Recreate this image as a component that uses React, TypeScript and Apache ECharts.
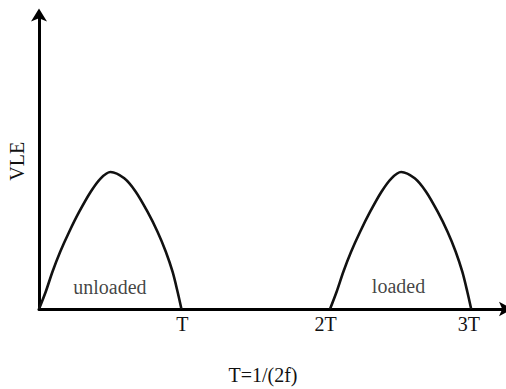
import React, { useEffect, useRef } from "react";
import * as echarts from "echarts";

// Curve points (x in units of T, y relative to peak)
const unloadedX = [0, 0.047, 0.094, 0.148, 0.211, 0.281, 0.361, 0.431, 0.499, 0.595, 0.675, 0.757, 0.827, 0.885, 0.932, 0.967, 0.994];
const unloadedY = [0, 0.126, 0.272, 0.418, 0.564, 0.71, 0.856, 0.954, 1.0, 0.954, 0.856, 0.71, 0.564, 0.418, 0.272, 0.126, 0];
const loadedX = [2.031, 2.077, 2.124, 2.178, 2.241, 2.311, 2.39, 2.46, 2.527, 2.622, 2.701, 2.782, 2.851, 2.908, 2.954, 2.989, 3.016];
const loadedY = [0, 0.126, 0.272, 0.418, 0.564, 0.71, 0.856, 0.954, 1.0, 0.954, 0.856, 0.71, 0.564, 0.418, 0.272, 0.126, 0];

const tickLabels: Record<number, string> = { 1: "T", 2: "2T", 3: "3T" };
const regionLabels = [
  { name: "unloaded", x: 0.495, y: 0.16 },
  { name: "loaded", x: 2.509, y: 0.168 },
];
const yAxisName = "VLE";
const footNote = "T=1/(2f)";

const FONT = "'Liberation Serif', 'Times New Roman', serif";
const TXT = "#111";

export default function App() {
  const ref = useRef<HTMLDivElement>(null);
  useEffect(() => {
    if (!ref.current) return;
    const chart = echarts.init(ref.current, null, { renderer: "svg" });
    const zip = (xs: number[], ys: number[]) => xs.map((x, i) => [x, ys[i]]);
    const curve = { color: "#111", width: 2.6 };
    chart.setOption({
      animation: false,
      backgroundColor: "#ffffff",
      grid: {
        left: 39,
        right: 0,
        top: 13.5,
        bottom: 80,
        containLabel: false,
        outerBoundsMode: "none",
      },
      xAxis: {
        type: "value",
        min: 0,
        max: 3.259,
        interval: 1,
        axisLine: {
          show: true,
          onZero: false,
          symbol: ["none", "arrow"],
          symbolSize: [11, 13],
          symbolOffset: [0, 6],
          lineStyle: { color: "#000", width: 3 },
        },
        axisTick: { show: false },
        splitLine: { show: false },
        axisLabel: {
          show: true,
          margin: 5,
          fontFamily: FONT,
          fontSize: 20,
          color: TXT,
          showMinLabel: false,
          showMaxLabel: false,
          formatter: (v: number) => tickLabels[Math.round(v)] ?? "",
        },
      },
      yAxis: {
        type: "value",
        min: 0,
        max: 2.157,
        name: yAxisName,
        nameLocation: "middle",
        nameRotate: 90,
        nameGap: 12,
        nameTextStyle: { fontFamily: FONT, fontSize: 20, color: TXT },
        axisLine: {
          show: true,
          symbol: ["none", "arrow"],
          symbolSize: [12, 13],
          symbolOffset: [0, 5],
          lineStyle: { color: "#000", width: 3 },
        },
        axisTick: { show: false },
        axisLabel: { show: false },
        splitLine: { show: false },
      },
      series: [
        {
          type: "line",
          data: zip(unloadedX, unloadedY),
          smooth: 0.3,
          symbol: "none",
          lineStyle: curve,
        },
        {
          type: "line",
          data: zip(loadedX, loadedY),
          smooth: 0.3,
          symbol: "none",
          lineStyle: curve,
        },
        {
          type: "scatter",
          symbolSize: 0,
          data: regionLabels.map((r) => ({ name: r.name, value: [r.x, r.y] })),
          label: {
            show: true,
            position: "inside",
            formatter: (p: any) => p.name,
            fontFamily: FONT,
            fontSize: 20,
            color: TXT,
          },
        },
      ],
      graphic: [
        {
          type: "text",
          x: 263,
          y: 375,
          style: {
            text: footNote,
            fontFamily: FONT,
            fontSize: 20,
            fill: TXT,
            textAlign: "center",
            textVerticalAlign: "middle",
          },
        },
      ],
    });
    return () => chart.dispose();
  }, []);
  return (
    <div
      ref={ref}
      style={{ position: "fixed", left: 0, top: 0, width: 506, height: 389, background: "#fff" }}
    />
  );
}
